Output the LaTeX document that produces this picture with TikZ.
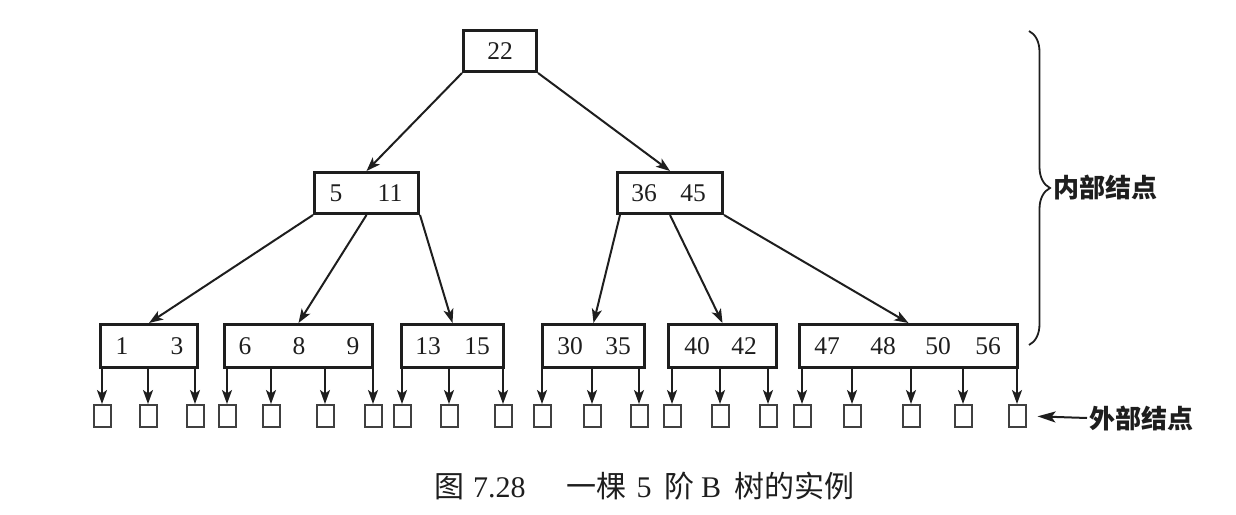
\documentclass[tikz,border=0pt]{standalone}
\usepackage{fontspec}
\setmainfont{Liberation Serif}
\newfontfamily\cjk{Noto Sans CJK SC}
\usetikzlibrary{arrows.meta,decorations.pathreplacing}
\definecolor{ink}{HTML}{1E1E1E}
\begin{document}
\begin{tikzpicture}[x=1pt,y=-1pt,
  keybox/.style={draw=ink,line width=3.2pt,inner sep=0pt,minimum height=40.8pt},
  num/.style={text=ink,inner sep=0pt,font=\fontsize{25.5pt}{30pt}\selectfont},
  extbox/.style={draw=ink!85,line width=2pt,inner sep=0pt,minimum width=17pt,minimum height=22pt},
  arr/.style={draw=ink,line width=2pt,-{Stealth[length=14pt,width=10pt,inset=3.5pt]}},
  lab/.style={text=ink,inner sep=2pt,font=\cjk\bfseries\fontsize{26pt}{30pt}\selectfont}]
\useasboundingbox (0,0) rectangle (1236,514);
% internal nodes
\node[keybox,minimum width=72.8pt] (root) at (500,51) {};
\node[keybox,minimum width=103.8pt] (m1) at (366.5,193) {};
\node[keybox,minimum width=104.8pt] (m2) at (670,193) {};
\node[keybox,minimum width=96.8pt,minimum height=42.8pt] (l1) at (149,346) {};
\node[keybox,minimum width=147.8pt,minimum height=42.8pt] (l2) at (298.5,346) {};
\node[keybox,minimum width=101.8pt,minimum height=42.8pt] (l3) at (452.5,346) {};
\node[keybox,minimum width=101.8pt,minimum height=42.8pt] (l4) at (593.5,346) {};
\node[keybox,minimum width=107.8pt,minimum height=42.8pt] (l5) at (722.5,346) {};
\node[keybox,minimum width=217.8pt,minimum height=42.8pt] (l6) at (908.5,346) {};
% keys
\node[num] (k22) at (500,51) {22};
\node[num] (k5) at (336,193) {5};
\node[num] (k11) at (390,193) {11};
\node[num] (k36) at (644,193) {36};
\node[num] (k45) at (693,193) {45};
\node[num] (k1) at (122,346) {1};
\node[num] (k3) at (177,346) {3};
\node[num] (k6) at (245,346) {6};
\node[num] (k8) at (299,346) {8};
\node[num] (k9) at (353,346) {9};
\node[num] (k13) at (428,346) {13};
\node[num] (k15) at (477,346) {15};
\node[num] (k30) at (570,346) {30};
\node[num] (k35) at (618,346) {35};
\node[num] (k40) at (697,346) {40};
\node[num] (k42) at (744,346) {42};
\node[num] (k47) at (827,346) {47};
\node[num] (k48) at (883,346) {48};
\node[num] (k50) at (938,346) {50};
\node[num] (k56) at (988,346) {56};
% external nodes
\foreach \x [count=\i] in {102,148,195,227,271,325,373,402,449,503,542,592,639,672,720,768,802,852,911,963,1017}
  \node[extbox] (e\i) at (\x,416) {};
% tree edges
\draw[arr] (root.south west) -- (m1.north);
\draw[arr] (root.south east) -- (m2.north);
\draw[arr] (m1.south west) -- (l1.north);
\draw[arr] (m1.south) -- (l2.north);
\draw[arr] (m1.south east) -- (l3.north);
\draw[arr] ([xshift=4pt]m2.south west) -- (l4.north);
\draw[arr] (m2.south) -- (l5.north);
\draw[arr] (m2.south east) -- (l6.north);
% leaf to external
\foreach \i/\l in {1/l1,2/l1,3/l1,4/l2,5/l2,6/l2,7/l2,8/l3,9/l3,10/l3,11/l4,12/l4,13/l4,14/l5,15/l5,16/l5,17/l6,18/l6,19/l6,20/l6,21/l6}
  \draw[arr] (e\i.north |- \l.south) -- (e\i.north);
% brace
\draw[draw=ink,line width=1.8pt,decorate,decoration={brace,amplitude=21pt}] (1029,31) -- (1029,345);
\node[lab,anchor=west] (inner) at (1051,188) {内部结点};
\node[lab,anchor=west] (outer) at (1087,418) {外部结点};
\draw[draw=ink,line width=2pt,-{Stealth[length=18pt,width=11pt,inset=4pt]},shorten >=11pt] (outer.west) -- (e21.east);
% caption
\node[text=ink,inner sep=0pt,font=\fontsize{30pt}{34pt}\selectfont] (cap) at (644,486) {{\cjk 图}\hspace{9pt}7.28\hspace{41pt}{\cjk 一棵}\hspace{10pt}5\hspace{13pt}{\cjk 阶}\hspace{6.5pt}B\hspace{13pt}{\cjk 树的实例}};
\end{tikzpicture}
\end{document}
